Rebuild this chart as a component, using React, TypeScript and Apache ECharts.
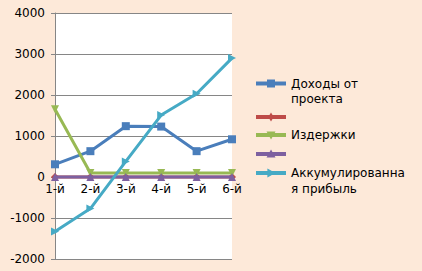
import React, { useEffect, useRef } from "react";
import * as echarts from "echarts";

const categories = ["1-й", "2-й", "3-й", "4-й", "5-й", "6-й"];
const income = [310, 630, 1240, 1230, 630, 920];
const redSeries = [0, 0, 0, 0, 0, 0];
const costs = [1650, 100, 100, 100, 100, 100];
const purpleSeries = [0, 0, 0, 0, 0, 0];
const accumulated = [-1330, -770, 380, 1510, 2030, 2900];
const yTicks = { min: -2000, max: 4000, interval: 1000 };

const names = ["Доходы от проекта", " ", "Издержки", "  ", "Аккумулированная прибыль"];
const legendLines = [["Доходы от", "проекта"], [], ["Издержки"], [], ["Аккумулированна", "я прибыль"]];
const colors = ["#4A7EBB", "#BE4B48", "#98B954", "#7D60A0", "#46AAC5"];
const symbols = ["rect", "diamond", "triangleDown", "triangle", "triangleRight"];

function markerPoints(kind: string, cx: number, cy: number, r: number): number[][] {
  if (kind === "diamond") return [[cx, cy - r], [cx + r * 0.6, cy], [cx, cy + r], [cx - r * 0.6, cy]];
  if (kind === "triangleDown") return [[cx - r, cy - r * 0.8], [cx + r, cy - r * 0.8], [cx, cy + r]];
  if (kind === "triangle") return [[cx - r, cy + r * 0.8], [cx + r, cy + r * 0.8], [cx, cy - r]];
  if (kind === "triangleRight") return [[cx - r * 0.8, cy - r], [cx - r * 0.8, cy + r], [cx + r, cy]];
  return [[cx - r, cy - r], [cx + r, cy - r], [cx + r, cy + r], [cx - r, cy + r]];
}

export default function App() {
  const ref = useRef<HTMLDivElement>(null);
  useEffect(() => {
    const chart = echarts.init(ref.current!, null, { renderer: "svg" });
    const font = "DejaVu Sans";
    const legendCenters = [83.5, 117, 135, 154, 173];
    const legendGraphics: any[] = [];
    legendCenters.forEach((cy, i) => {
      legendGraphics.push({
        type: "line",
        shape: { x1: 256, y1: cy, x2: 286, y2: cy },
        style: { stroke: colors[i], lineWidth: 4 },
      });
      legendGraphics.push({
        type: "polygon",
        shape: { points: markerPoints(symbols[i], 271, cy, i === 0 ? 4 : 4.5) },
        style: { fill: colors[i] },
      });
      legendLines[i].forEach((t, j) => {
        legendGraphics.push({
          type: "text",
          x: 291,
          y: cy + j * 15.5,
          style: {
            text: t,
            font: `12px "${font}"`,
            fill: "#000",
            verticalAlign: "middle",
            align: "left",
          },
        });
      });
    });
    const rot: Record<string, number> = { triangleDown: 180, triangleRight: -90 };
    const mk = (i: number, data: number[]) => ({
      name: names[i],
      type: "line",
      data,
      symbol: symbols[i].startsWith("triangle") ? "triangle" : symbols[i],
      symbolSize: 8,
      symbolRotate: rot[symbols[i]] || 0,
      showSymbol: true,
      lineStyle: { width: 3, color: colors[i] },
      itemStyle: { color: colors[i] },
      z: 2 + i,
    });
    chart.setOption({
      animation: false,
      backgroundColor: "#FDE9D9",
      color: colors,
      textStyle: { fontFamily: font },
      grid: {
        left: 55,
        right: 190,
        top: 13,
        bottom: 12,
        show: true,
        backgroundColor: "#FFFFFF",
        borderWidth: 0,
      },
      legend: { show: false },
      graphic: legendGraphics,
      xAxis: {
        type: "category",
        data: categories,
        boundaryGap: false,
        position: "bottom",
        offset: -82,
        axisLine: { onZero: false, lineStyle: { color: "#868686" } },
        axisTick: { show: false },
        axisLabel: { margin: 6, color: "#000", fontSize: 12, fontFamily: font },
        splitLine: { show: false },
      },
      yAxis: {
        type: "value",
        min: yTicks.min,
        max: yTicks.max,
        interval: yTicks.interval,
        axisLine: { show: true, lineStyle: { color: "#868686" } },
        axisTick: { show: true, length: 4, lineStyle: { color: "#868686" } },
        axisLabel: {
          margin: 10,
          color: "#000",
          fontSize: 12,
          fontFamily: font,
          formatter: (v: number) => String(v),
        },
        splitLine: { lineStyle: { color: "#868686", width: 1 } },
      },
      series: [
        mk(0, income),
        mk(1, redSeries),
        mk(2, costs),
        mk(3, purpleSeries),
        mk(4, accumulated),
      ],
    });
    return () => chart.dispose();
  }, []);
  return (
    <div
      ref={ref}
      style={{ position: "absolute", left: 0, top: 0, width: 422, height: 271 }}
    />
  );
}
